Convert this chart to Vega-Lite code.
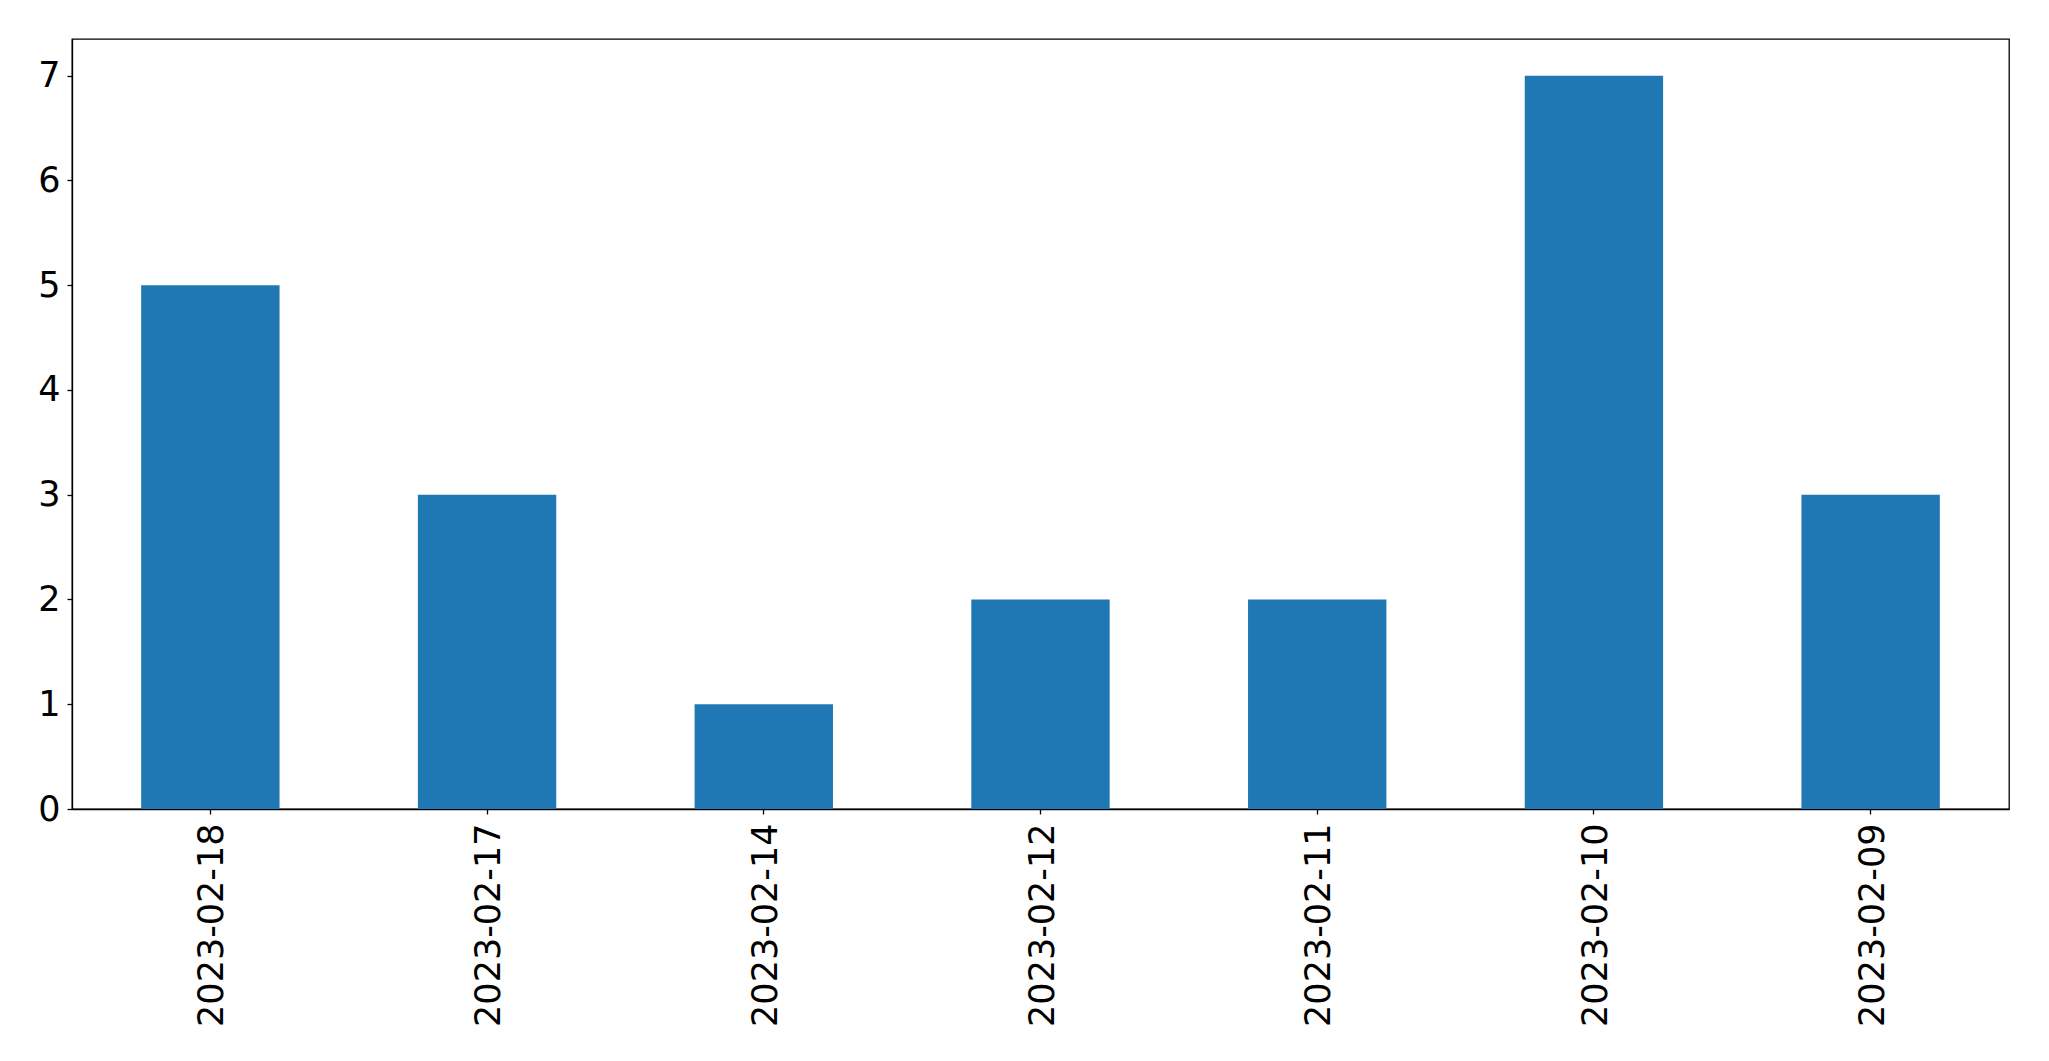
{
  "$schema": "https://vega.github.io/schema/vega-lite/v6.json",
  "width": 1937,
  "height": 770,
  "autosize": {"type": "none"},
  "padding": {"left": 72, "top": 39, "right": 40, "bottom": 252},
  "background": "white",
  "config": {
    "view": {"stroke": "black", "strokeWidth": 1.3},
    "font": "DejaVu Sans",
    "axis": {
      "labelFont": "DejaVu Sans",
      "labelFontSize": 35,
      "labelColor": "black",
      "labelLimit": 0,
      "domainColor": "black",
      "tickColor": "black",
      "tickSize": 5,
      "tickWidth": 1.3,
      "domainWidth": 1.3,
      "grid": false,
      "title": null
    }
  },
  "data": {
    "values": [
      {"date": "2023-02-18", "count": 5},
      {"date": "2023-02-17", "count": 3},
      {"date": "2023-02-14", "count": 1},
      {"date": "2023-02-12", "count": 2},
      {"date": "2023-02-11", "count": 2},
      {"date": "2023-02-10", "count": 7},
      {"date": "2023-02-09", "count": 3}
    ]
  },
  "mark": {"type": "bar", "color": "#1f77b4"},
  "encoding": {
    "x": {
      "field": "date",
      "type": "nominal",
      "sort": null,
      "scale": {"paddingInner": 0.5, "paddingOuter": 0.25},
      "axis": {"labelAngle": 270, "labelAlign": "right", "labelBaseline": "middle", "labelPadding": 9, "labelOffset": 2}
    },
    "y": {
      "field": "count",
      "type": "quantitative",
      "scale": {"domain": [0, 7.35], "nice": false},
      "axis": {"values": [0, 1, 2, 3, 4, 5, 6, 7], "labelPadding": 7}
    }
  }
}
